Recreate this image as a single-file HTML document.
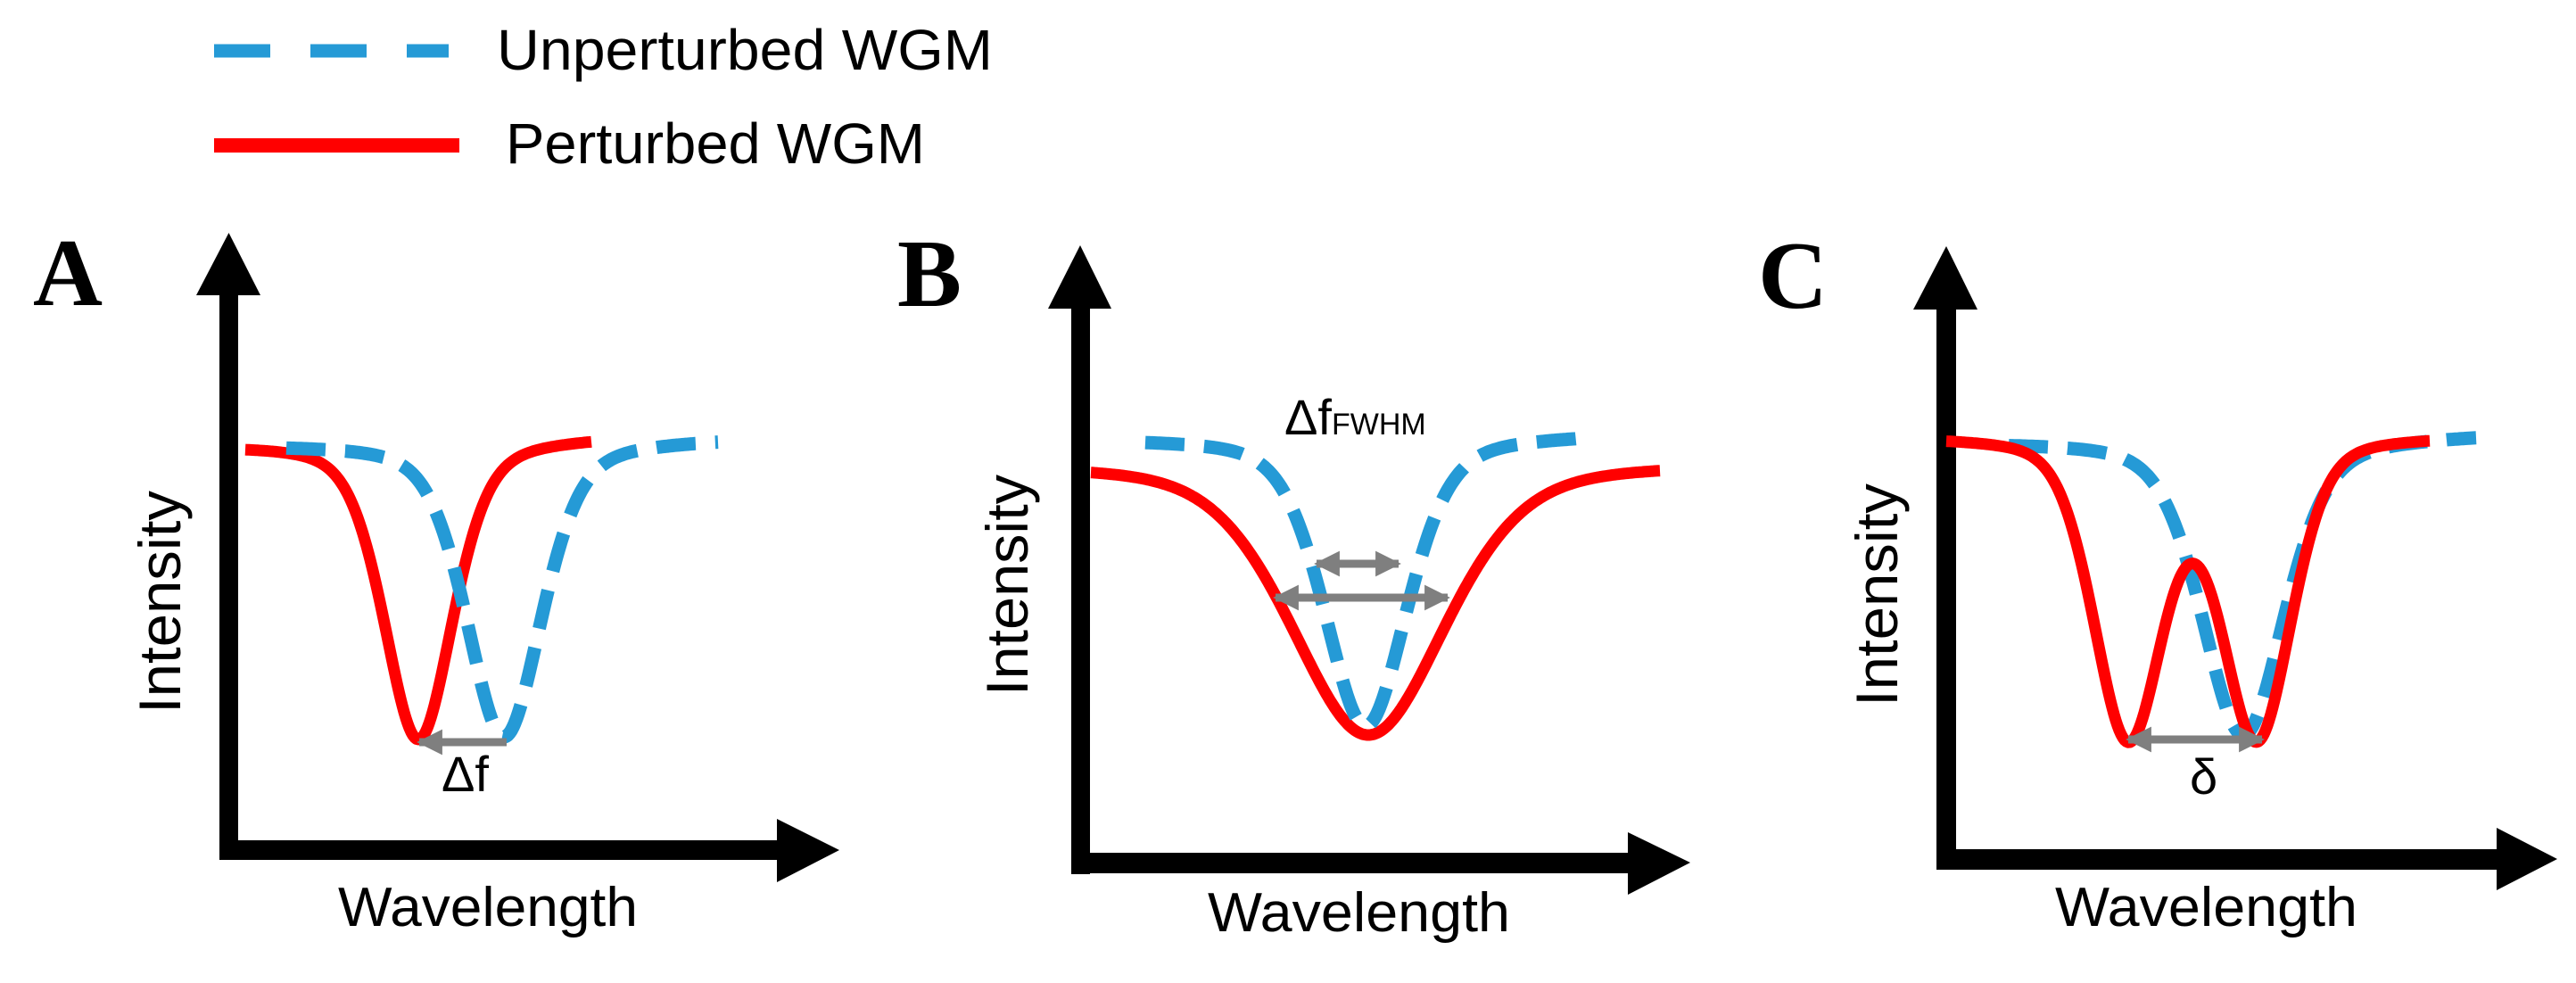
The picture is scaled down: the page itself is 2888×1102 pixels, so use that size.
<!DOCTYPE html>
<html><head><meta charset="utf-8"><style>
html,body{margin:0;padding:0;background:#fff;}
svg{display:block;}
text{font-family:"Liberation Sans",sans-serif;fill:#000;}
.lt{font-family:"Liberation Serif",serif;font-weight:bold;}
</style></head><body>
<svg id="s" width="2888" height="1102" viewBox="0 0 2888 1102" xmlns="http://www.w3.org/2000/svg">
<defs>
<marker id="ah" viewBox="0 0 10 10" refX="9" refY="5" markerWidth="3.2" markerHeight="3.2" orient="auto-start-reverse" markerUnits="strokeWidth">
<path d="M0,0 L10,5 L0,10 z" fill="#7f7f7f"/></marker>
</defs>
<line x1="240" y1="57" x2="503" y2="57" stroke="#259ad6" stroke-width="15" stroke-dasharray="63 45"/>
<text x="557" y="78" font-size="64" textLength="556" lengthAdjust="spacingAndGlyphs">Unperturbed WGM</text>
<line x1="240" y1="163" x2="515" y2="163" stroke="#ff0000" stroke-width="16"/>
<text x="567" y="183" font-size="64" textLength="470" lengthAdjust="spacingAndGlyphs">Perturbed WGM</text>

<text class="lt" x="37" y="342" font-size="108">A</text>
<rect x="246" y="320" width="21" height="644" fill="#000"/>
<polygon points="256.5,261 220,331 292,331" fill="#000"/>
<rect x="246" y="942" width="630" height="22" fill="#000"/>
<polygon points="941,953 871,918 871,989" fill="#000"/>
<text transform="translate(202,800) rotate(-90)" font-size="66" textLength="250" lengthAdjust="spacingAndGlyphs">Intensity</text>
<text x="379" y="1038" font-size="62" textLength="336" lengthAdjust="spacingAndGlyphs">Wavelength</text>

<text class="lt" x="1006" y="343" font-size="108">B</text>
<rect x="1201" y="335" width="21" height="645" fill="#000"/>
<polygon points="1211,275 1175,346 1246,346" fill="#000"/>
<rect x="1201" y="956" width="630" height="23" fill="#000"/>
<polygon points="1895,967 1825,933 1825,1003" fill="#000"/>
<text transform="translate(1152,780) rotate(-90)" font-size="66" textLength="248" lengthAdjust="spacingAndGlyphs">Intensity</text>
<text x="1354" y="1044" font-size="62" textLength="339" lengthAdjust="spacingAndGlyphs">Wavelength</text>

<text class="lt" x="1971" y="345" font-size="108">C</text>
<rect x="2171" y="335" width="22" height="640" fill="#000"/>
<polygon points="2182,276 2145,347 2217,347" fill="#000"/>
<rect x="2171" y="952" width="632" height="23" fill="#000"/>
<polygon points="2867,963 2799,928 2799,998" fill="#000"/>
<text transform="translate(2127,792) rotate(-90)" font-size="66" textLength="250" lengthAdjust="spacingAndGlyphs">Intensity</text>
<text x="2304" y="1038" font-size="62" textLength="339" lengthAdjust="spacingAndGlyphs">Wavelength</text>

<g id="cA"></g><g id="cB"></g><g id="cC"></g>

<line x1="568" y1="832" x2="470" y2="832" stroke="#7f7f7f" stroke-width="9" marker-end="url(#ah)"/>
<text x="495" y="887" font-size="56">Δf</text>
<line x1="1476" y1="632" x2="1568" y2="632" stroke="#7f7f7f" stroke-width="9" marker-start="url(#ah)" marker-end="url(#ah)"/>
<line x1="1430" y1="670" x2="1623" y2="670" stroke="#7f7f7f" stroke-width="9" marker-start="url(#ah)" marker-end="url(#ah)"/>
<text x="1440" y="487" font-size="56">Δf<tspan font-size="34">FWHM</tspan></text>
<line x1="2386" y1="829" x2="2536" y2="829" stroke="#7f7f7f" stroke-width="9" marker-start="url(#ah)" marker-end="url(#ah)"/>
<text x="2455" y="890" font-size="56">δ</text>
</svg>
<script>
function pv(x,x0,h,m){var t=(x-x0)/h;var g=Math.exp(-0.693*t*t);var l=1/(1+t*t);return (1-m)*g+m*l;}
function path(x1,x2,f){var d="";for(var x=x1;x<=x2;x+=2){d+=(x==x1?"M":"L")+x.toFixed(1)+","+f(x).toFixed(1)+" ";}return d;}
function add(id,d,color,w,dash){var p=document.createElementNS("http://www.w3.org/2000/svg","path");p.setAttribute("d",d);p.setAttribute("fill","none");p.setAttribute("stroke",color);p.setAttribute("stroke-width",w);p.setAttribute("stroke-linejoin","round");if(dash)p.setAttribute("stroke-dasharray",dash);document.getElementById(id).appendChild(p);}
function base(x,xa,ya,xb,yb){return ya+(yb-ya)*(x-xa)/(xb-xa);}
var B="#259ad6",R="#ff0000";
// Panel A
add("cA",path(275,663,function(x){var b=base(x,275,497,663,488);return b+(829-b)*pv(x,469,46,0.4)/pv(469,469,46,0.4);}),R,13);
add("cA",path(321,806,function(x){var b=base(x,321,497,806,490);return b+(826-b)*pv(x,565,50,0.4);}),B,15,"44 22");
// Panel B
add("cB",path(1223,1861,function(x){var b=base(x,1223,519,1861,518);return b+(824-b)*pv(x,1534,102,0.35);}),R,13);
add("cB",path(1284,1770,function(x){var b=base(x,1284,490,1770,485);return b+(814-b)*pv(x,1531,55,0.4);}),B,15,"44 22");
// Panel C
add("cC",path(2252,2777,function(x){var b=base(x,2252,494,2777,485);return b+(824-b)*pv(x,2515,55,0.4);}),B,15,"44 22");
add("cC",path(2182,2725,function(x){var b=base(x,2182,488,2725,487);var d=335;return b+d*(pv(x,2386,46,0.3)+pv(x,2530,46,0.3));}),R,13);
</script>
</body></html>
